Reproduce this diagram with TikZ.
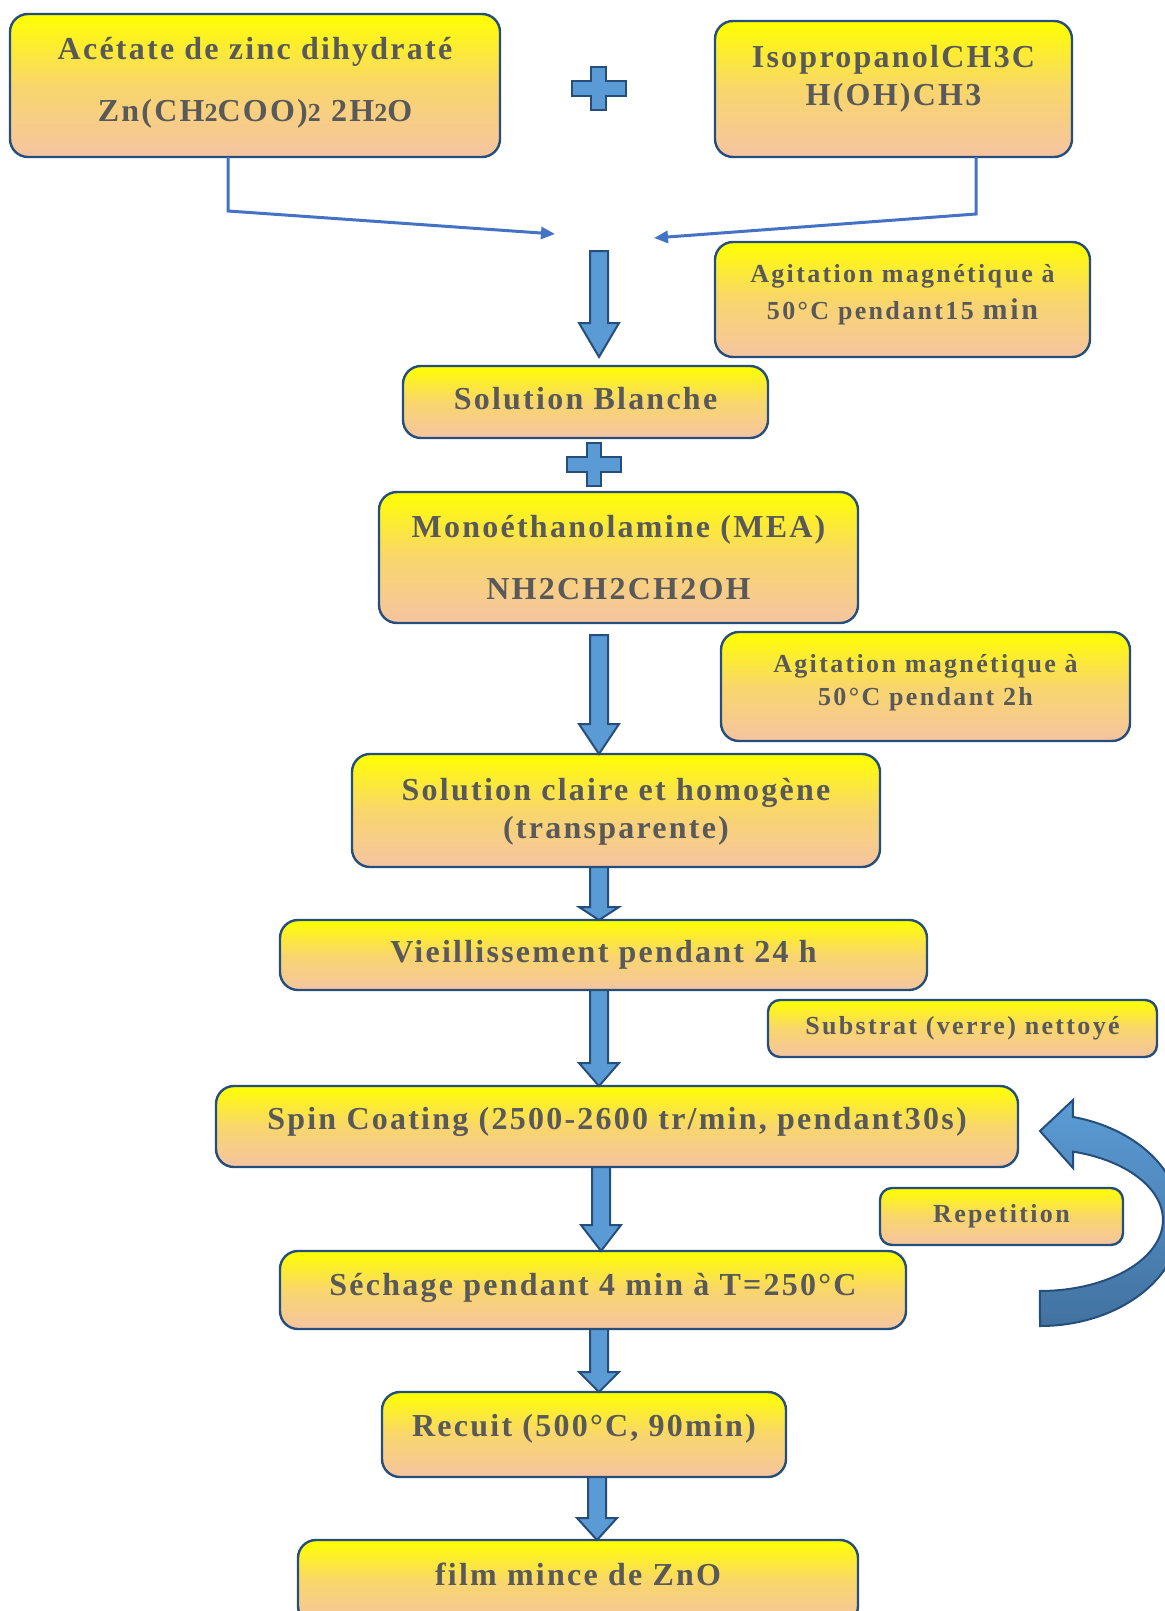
\documentclass[tikz,border=0pt]{standalone}
\usepackage{fontspec}
\setmainfont{Liberation Serif}[LetterSpace=9]
\newfontfamily\stagefont{Liberation Serif}[LetterSpace=7]
\usepackage{tikz}
\usetikzlibrary{arrows.meta, positioning, calc}

\definecolor{boxtop}{RGB}{255,255,0}
\definecolor{boxmid}{RGB}{249,214,108}
\definecolor{boxbot}{RGB}{245,196,162}
\definecolor{boxline}{RGB}{38,78,122}
\definecolor{txtgray}{RGB}{89,89,89}
\definecolor{arrblue}{RGB}{91,155,213}
\definecolor{arrdark}{RGB}{66,114,160}
\definecolor{feedblue}{RGB}{68,114,196}

\newcommand{\ind}[1]{{\fontsize{13}{10}\selectfont #1}}
\newcommand{\blockarrow}[3][22]{%
  \filldraw[blk] let \p1=(#2), \p2=(#3) in
    (\x1-4.5pt,\y1) -- (\x1+4.5pt,\y1) -- (\x1+4.5pt,\y2+#1*0.5pt)
    -- (\x1+10pt,\y2+#1*0.5pt) -- (\x1,\y2) -- (\x1-10pt,\y2+#1*0.5pt)
    -- (\x1-4.5pt,\y2+#1*0.5pt) -- cycle;}

\begin{document}
\begin{tikzpicture}[x=0.5pt, y=-0.5pt,
    stage/.style={draw=boxline, line width=1.2pt, rounded corners=9pt,
      top color=boxtop, bottom color=boxbot, middle color=boxmid,
      text=txtgray, font=\stagefont\fontsize{16}{19}\selectfont\bfseries,
      align=center, inner sep=0pt, outer sep=0pt},
    stir/.style={stage, font=\fontsize{13}{18.5}\selectfont\bfseries},
    note/.style={stage, rounded corners=6pt,
      font=\fontsize{13}{16}\selectfont\bfseries},
    feed/.style={feedblue, line width=1.5pt, -{Triangle[length=7pt,width=6pt]}},
    blk/.style={fill=arrblue, draw=boxline, line width=1pt},
    plussign/.pic={\filldraw[blk] (-27,-7.3) -- (-7.3,-7.3) -- (-7.3,-21.7)
      -- (7.3,-21.7) -- (7.3,-7.3) -- (27,-7.3) -- (27,7.3) -- (7.3,7.3)
      -- (7.3,21.7) -- (-7.3,21.7) -- (-7.3,7.3) -- (-27,7.3) -- cycle;}
  ]
  \useasboundingbox (0,0) rectangle (1165,1611);
  \clip (0,0) rectangle (1165,1611);

  % starting products
  \node[stage, minimum width=245pt, minimum height=71.5pt, text depth=6.3pt]
  (acet) at (255,85.5)
  {Acétate de zinc dihydraté\\[12pt]Zn(CH\ind{2}COO)\ind{2} 2H\ind{2}O};
  \node[stage, minimum width=178.5pt, minimum height=68pt, text depth=13.8pt]
  (iso) at (893.5,89) {IsopropanolCH3C\\H(OH)CH3};
  \pic at (598.5,88.5) {plussign};
  \coordinate (mixL) at (555,234);
  \coordinate (mixR) at (654,238);
  \coordinate (mix) at (599,251);
  \coordinate (col) at (599,0);
  \draw[feed] ([xshift=-13.5pt]acet.south) -- ++(0,54) -- (mixL);
  \draw[feed] ([xshift=41.25pt]iso.south) -- ++(0,57) -- (mixR);

  \node[stir, minimum width=187.5pt, minimum height=57.5pt, text depth=7.3pt]
  (stirA) at (902.5,299.5)
  {Agitation magnétique à\\50°C pendant15 {\fontsize{15}{18.5}\selectfont min}};

  % main chain
  \node[stage, minimum width=182.5pt, minimum height=36pt, text depth=3.4pt]
  (blanche) at (585.5,402) {Solution Blanche};
  \pic at (594,464.5) {plussign};
  \node[stage, minimum width=239.5pt, minimum height=65.5pt,
    below=27pt of blanche, xshift=16.5pt]
  (mea) {Monoéthanolamine (MEA)\\[12pt]NH2CH2CH2OH};
  \node[stir, minimum width=204.5pt, minimum height=54.5pt, text depth=7pt,
    font=\fontsize{13}{16.5}\selectfont\bfseries]
  (stirB) at (925.5,686.5) {Agitation magnétique à\\50°C pendant 2h};
  \node[stage, minimum width=264pt, minimum height=56.5pt, text depth=2.3pt,
    below=65.5pt of mea, xshift=-1.25pt]
  (claire) {Solution claire et homogène\\(transparente)};
  \node[stage, minimum width=323.5pt, minimum height=35pt, text depth=3.2pt,
    below=26.5pt of claire, xshift=-6.25pt]
  (vieil) {Vieillissement pendant 24 h};
  \node[note, minimum width=194.5pt, minimum height=28.5pt]
  (substrat) at (962.5,1028.5) {Substrat (verre) nettoyé};
  \node[stage, minimum width=401pt, minimum height=40.5pt, text depth=8.3pt,
    below=48pt of vieil, xshift=6.75pt]
  (spin) {Spin Coating (2500-2600 tr/min, pendant30s)};
  \node[note, minimum width=121.5pt, minimum height=28.5pt]
  (repet) at (1001.5,1216.5) {Repetition};
  \node[stage, minimum width=313pt, minimum height=39pt, text depth=5.2pt,
    below=42pt of spin, xshift=-12pt]
  (sechage) {Séchage pendant 4 min à T=250°C};
  \node[stage, minimum width=202pt, minimum height=42.5pt, text depth=9.3pt,
    below=31.5pt of sechage, xshift=-4.5pt]
  (recuit) {Recuit (500°C, 90min)};
  \node[stage, minimum width=280pt, minimum height=42pt, text depth=8pt,
    below=31.5pt of recuit, xshift=-3pt]
  (film) {film mince de ZnO};

  % block arrows
  \blockarrow[34]{mix}{$(blanche.north)+(0,-9)$}
  \blockarrow[30]{$(mea.south -| col)+(0,12)$}{claire.north}
  \blockarrow[13]{claire.south -| col}{vieil.north}
  \blockarrow[23]{vieil.south -| col}{spin.north}
  \blockarrow[26]{$(spin.south -| col)+(2,0)$}{sechage.north}
  \blockarrow[20]{sechage.south -| col}{recuit.north}
  \blockarrow[22]{$(recuit.south -| col)+(-2,0)$}{film.north}

  % repetition loop
  \path[draw=boxline, line width=1pt, top color=arrblue, bottom color=arrdark]
  (1040,1326) arc[start angle=270, end angle=436.5, x radius=70.5pt, y radius=53pt]
  -- (1073,1100) -- (1040,1131) -- (1073,1168) -- (1073,1151.6)
  arc[start angle=74.4, end angle=-90, x radius=61.5pt, y radius=35.5pt] -- cycle;
\end{tikzpicture}
\end{document}
